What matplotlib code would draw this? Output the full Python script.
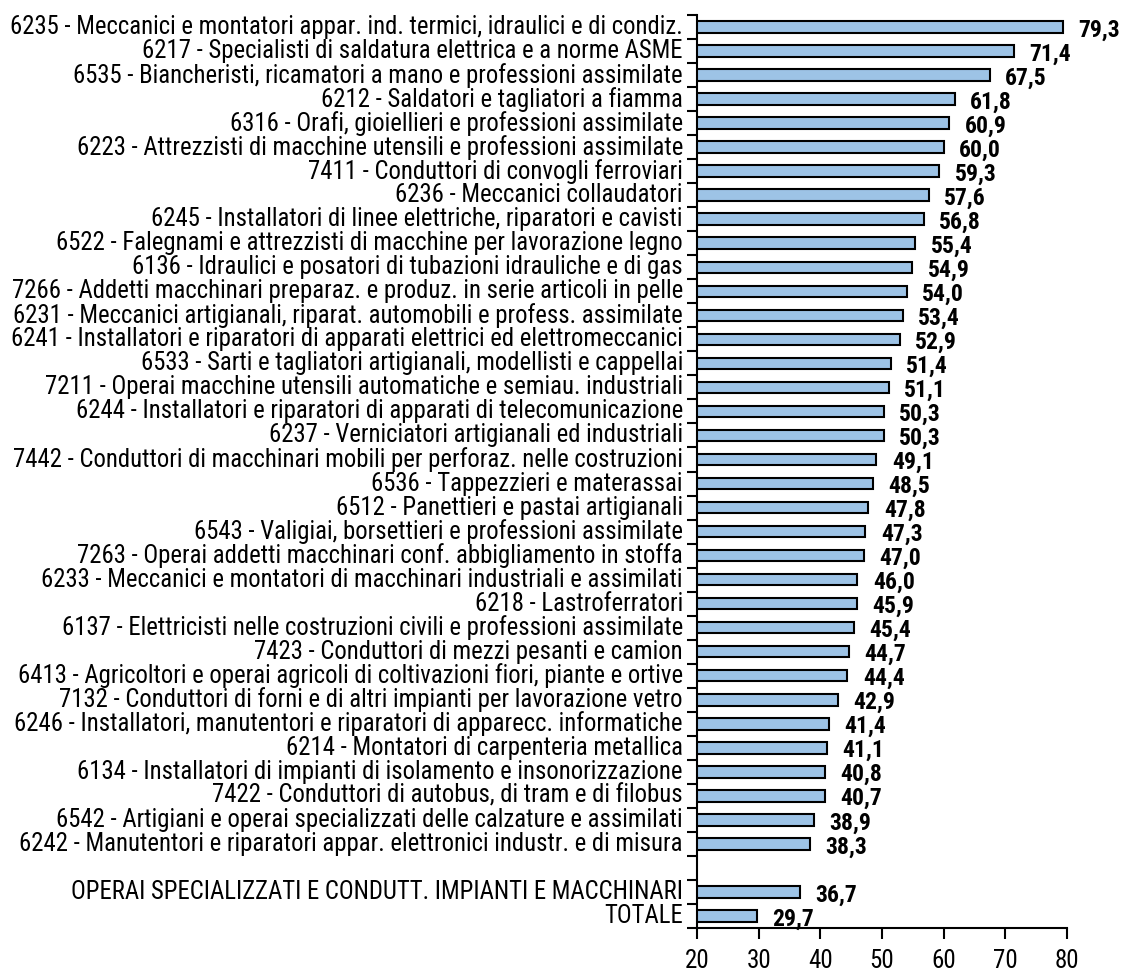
import numpy as np
import matplotlib
matplotlib.use("Agg")
import matplotlib.pyplot as plt
from matplotlib import font_manager

occupations = [
    "6235 - Meccanici e montatori appar. ind. termici, idraulici e di condiz.",
    "6217 - Specialisti di saldatura elettrica e a norme ASME",
    "6535 - Biancheristi, ricamatori a mano e professioni assimilate",
    "6212 - Saldatori e tagliatori a fiamma",
    "6316 - Orafi, gioiellieri e professioni assimilate",
    "6223 - Attrezzisti di macchine utensili e professioni assimilate",
    "7411 - Conduttori di convogli ferroviari",
    "6236 - Meccanici collaudatori",
    "6245 - Installatori di linee elettriche, riparatori e cavisti",
    "6522 - Falegnami e attrezzisti di macchine per lavorazione legno",
    "6136 - Idraulici e posatori di tubazioni idrauliche e di gas",
    "7266 - Addetti macchinari preparaz. e produz. in serie articoli in pelle",
    "6231 - Meccanici artigianali, riparat. automobili e profess. assimilate",
    "6241 - Installatori e riparatori di apparati elettrici ed elettromeccanici",
    "6533 - Sarti e tagliatori artigianali, modellisti e cappellai",
    "7211 - Operai macchine utensili automatiche e semiau. industriali",
    "6244 - Installatori e riparatori di apparati di telecomunicazione",
    "6237 - Verniciatori artigianali ed industriali",
    "7442 - Conduttori di macchinari mobili per perforaz. nelle costruzioni",
    "6536 - Tappezzieri e materassai",
    "6512 - Panettieri e pastai artigianali",
    "6543 - Valigiai, borsettieri e professioni assimilate",
    "7263 - Operai addetti macchinari conf. abbigliamento in stoffa",
    "6233 - Meccanici e montatori di macchinari industriali e assimilati",
    "6218 - Lastroferratori",
    "6137 - Elettricisti nelle costruzioni civili e professioni assimilate",
    "7423 - Conduttori di mezzi pesanti e camion",
    "6413 - Agricoltori e operai agricoli di coltivazioni fiori, piante e ortive",
    "7132 - Conduttori di forni e di altri impianti per lavorazione vetro",
    "6246 - Installatori, manutentori e riparatori di apparecc. informatiche",
    "6214 - Montatori di carpenteria metallica",
    "6134 - Installatori di impianti di isolamento e insonorizzazione",
    "7422 - Conduttori di autobus, di tram e di filobus",
    "6542 - Artigiani e operai specializzati delle calzature e assimilati",
    "6242 - Manutentori e riparatori appar. elettronici industr. e di misura",
]
occ_values = [79.3, 71.4, 67.5, 61.8, 60.9, 60.0, 59.3, 57.6, 56.8, 55.4,
              54.9, 54.0, 53.4, 52.9, 51.4, 51.1, 50.3, 50.3, 49.1, 48.5,
              47.8, 47.3, 47.0, 46.0, 45.9, 45.4, 44.7, 44.4, 42.9, 41.4,
              41.1, 40.8, 40.7, 38.9, 38.3]
totals = ["OPERAI SPECIALIZZATI E CONDUTT. IMPIANTI E MACCHINARI", "TOTALE"]
tot_values = [36.7, 29.7]

names = set(f.name for f in font_manager.fontManager.ttflist)
font = "DejaVu Sans"
for cand in ["Liberation Sans Narrow", "Arial Narrow", "Roboto Condensed", "Archivo Narrow"]:
    if cand in names:
        font = cand
        break
plt.rcParams['font.family'] = [font, 'DejaVu Sans']

labels = occupations + [""] + totals
values = occ_values + [np.nan] + tot_values
pos = np.arange(len(labels))

fig = plt.figure(figsize=(11.24, 9.69), dpi=100)
ax = fig.add_axes([697/1124, 1-928/969, 370/1124, (928-15)/969])

ax.barh(pos, values, height=0.48, left=0, color="#9dc3e6", edgecolor="black", linewidth=1.5)
ax.set_xlim(20, 80)
ax.set_ylim(len(labels)-0.5, -0.5)

# value labels, bold, a bit right of and below the bar end
for p, v in zip(pos, values):
    if np.isnan(v):
        continue
    ax.text(v + 2.5, p + 0.12, f"{v:.1f}".replace(".", ","), ha="left", va="center",
            fontsize=17, fontweight="bold", clip_on=False)

for p, lab in zip(pos, labels):
    ax.text(-0.038, p, lab, transform=ax.get_yaxis_transform(), ha="right", va="center",
            fontsize=17.8)

ax.set_yticks(np.arange(len(labels)+1) - 0.5)
ax.set_yticklabels([])
ax.set_xticks(np.arange(20, 81, 10))
ax.tick_params(axis="x", labelsize=18, direction="out", length=8, width=1.5, pad=7)
ax.tick_params(axis="y", direction="out", length=7, width=1.5)
for s in ["top", "right"]:
    ax.spines[s].set_visible(False)
for s in ["left", "bottom"]:
    ax.spines[s].set_linewidth(1.5)

fig.savefig("out.png", dpi=100)
